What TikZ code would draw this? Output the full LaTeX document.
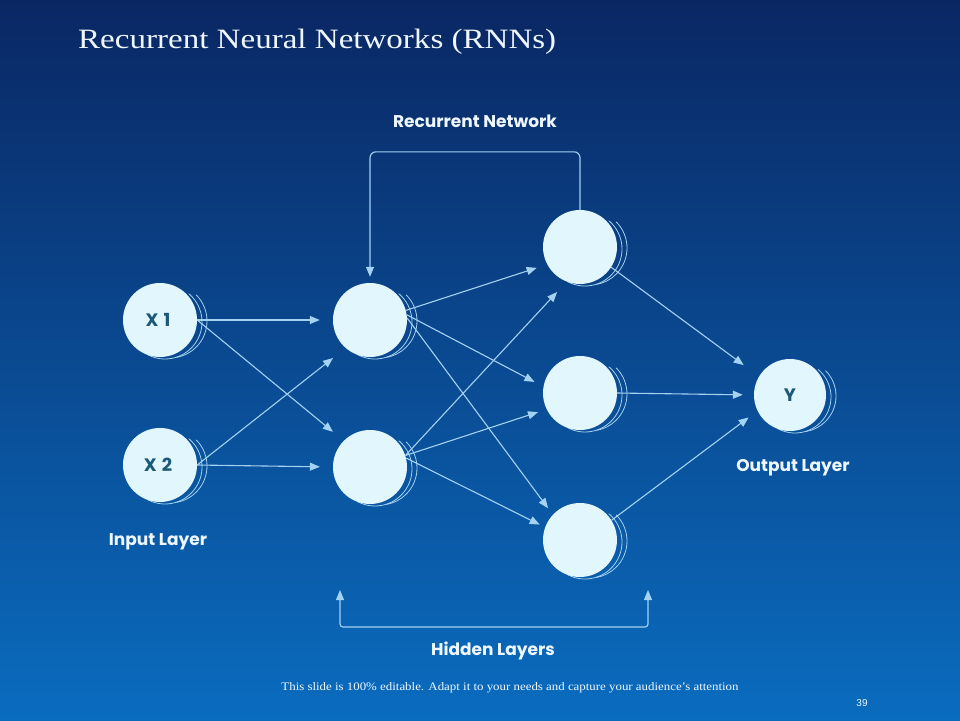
\documentclass[tikz,border=0pt]{standalone}
\usepackage{fontspec}
\setmainfont{Liberation Serif}
\newfontfamily\labfont{Poppins}
\newfontfamily\numfont{Liberation Sans}
\usetikzlibrary{arrows.meta}
\definecolor{bgtop}{HTML}{0A2763}
\definecolor{bgmid}{HTML}{0A4C97}
\definecolor{bgbot}{HTML}{0A6CBF}
\definecolor{nodefill}{HTML}{E2F6FD}
\definecolor{linec}{HTML}{A3D2F3}
\definecolor{nodetext}{HTML}{1D5A78}
\definecolor{labtext}{HTML}{EEF7FF}
\pgfdeclarelayer{back}
\pgfdeclarelayer{mid}
\pgfsetlayers{back,mid,main}
\newcommand\neurrings[2]{%
  \draw[ring] ([shift={(5,2)}]#1.center) ++(-50:#2) arc[start angle=-50, end angle=118, radius=#2];
  \draw[ring] ([shift={(10,1)}]#1.center) ++(-45:#2) arc[start angle=-45, end angle=80, radius=#2];
}
\begin{document}
\begin{tikzpicture}[x=1pt,y=-1pt,
  neuron/.style={circle, fill=nodefill, minimum size=74pt, inner sep=0pt,
    font=\labfont\bfseries\fontsize{18}{21}\selectfont, text=nodetext},
  conn/.style={draw=linec, line width=1.1pt, -{Triangle[length=10pt,width=8pt]}},
  ring/.style={draw=linec, line width=0.8pt},
  lab/.style={font=\labfont\bfseries\fontsize{17}{20}\selectfont, text=labtext}]
\begin{pgfonlayer}{back}
\shade[top color=bgtop, middle color=bgmid, bottom color=bgbot] (0,0) rectangle (960,720);
\end{pgfonlayer}
\useasboundingbox (0,0) rectangle (960,720);

\node[neuron] (x1) at (160,320) {\hspace{-4pt}X\hspace{5pt}1};
\node[neuron] (x2) at (160,465) {\hspace{-4pt}X\hspace{5pt}2};
\node[neuron] (h1a) at (370,320) {};
\node[neuron] (h1b) at (370,467) {};
\node[neuron] (h2a) at (580,247) {};
\node[neuron] (h2b) at (580,393) {};
\node[neuron] (h2c) at (580,540) {};
\node[neuron, minimum size=72pt] (y) at (790,395) {Y};

\begin{pgfonlayer}{mid}
\neurrings{x1}{37}
\neurrings{x2}{37}
\neurrings{h1a}{37}
\neurrings{h1b}{37}
\neurrings{h2a}{37}
\neurrings{h2b}{37}
\neurrings{h2c}{37}
\neurrings{y}{36}
\end{pgfonlayer}

% input -> hidden 1
\draw[conn, shorten >=13pt] (x1.east) -- (h1a.west);
\draw[conn, shorten >=14pt] (x1.east) -- (h1b.135);
\draw[conn, shorten >=16pt] (x2.east) -- (h1a.229);
\draw[conn, shorten >=13pt] (x2.east) -- (h1b.west);
% hidden 1 -> hidden 2
\draw[conn, shorten >=11pt] (h1a.15) -- (h2a.208);
\draw[conn, shorten >=10pt] (h1a.8) -- (h2b.170);
\draw[conn, shorten >=8pt] (h1a.3) -- (h2c.137);
\draw[conn, shorten >=14pt] (h1b.18) -- (h2a.249);
\draw[conn, shorten >=9pt] (h1b.18) -- (h2b.206);
\draw[conn, shorten >=6pt] (h1b.14) -- (h2c.160);
% hidden 2 -> output
\draw[conn, shorten >=19pt] (h2a.-33) -- (y.149);
\draw[conn, shorten >=11pt] (h2b.east) -- (y.west);
\draw[conn, shorten >=11pt] (h2c.32) -- (y.206);
% recurrent loop
\draw[conn, rounded corners=6pt, shorten >=6pt] (h2a.north) -- ++(0,-58) -| (h1a.north);
% hidden bracket
\coordinate (bl) at (340,590);
\coordinate (br) at (648,590);
\draw[draw=linec, line width=1.1pt, {Triangle[length=10pt,width=8pt]}-{Triangle[length=10pt,width=8pt]}, rounded corners=3pt]
  (bl) -- ++(0,37) -| (br);

\node[lab] (tRN) at (475,121) {Recurrent Network};
\node[lab] (tIn) at (158,542) {Input Layer};
\node[lab] (tOut) at (793,468) {Output Layer};
\node[lab] (tHid) at (493,651) {Hidden Layers};
\node[anchor=west, inner sep=0pt, text=labtext, font=\fontsize{28}{32}\selectfont] (title) at (78,42) {\scalebox{1.18}[1]{Recurrent Neural Networks (RNNs)}};
\node[text=labtext, font=\fontsize{11.5}{13}\selectfont] (foot) at (510,688) {\scalebox{1.12}[1]{This slide is 100\% editable. Adapt it to your needs and capture your audience's attention}};
\node[text=labtext, font=\numfont\fontsize{10}{12}\selectfont] (pg) at (862,703) {39};
\end{tikzpicture}
\end{document}
